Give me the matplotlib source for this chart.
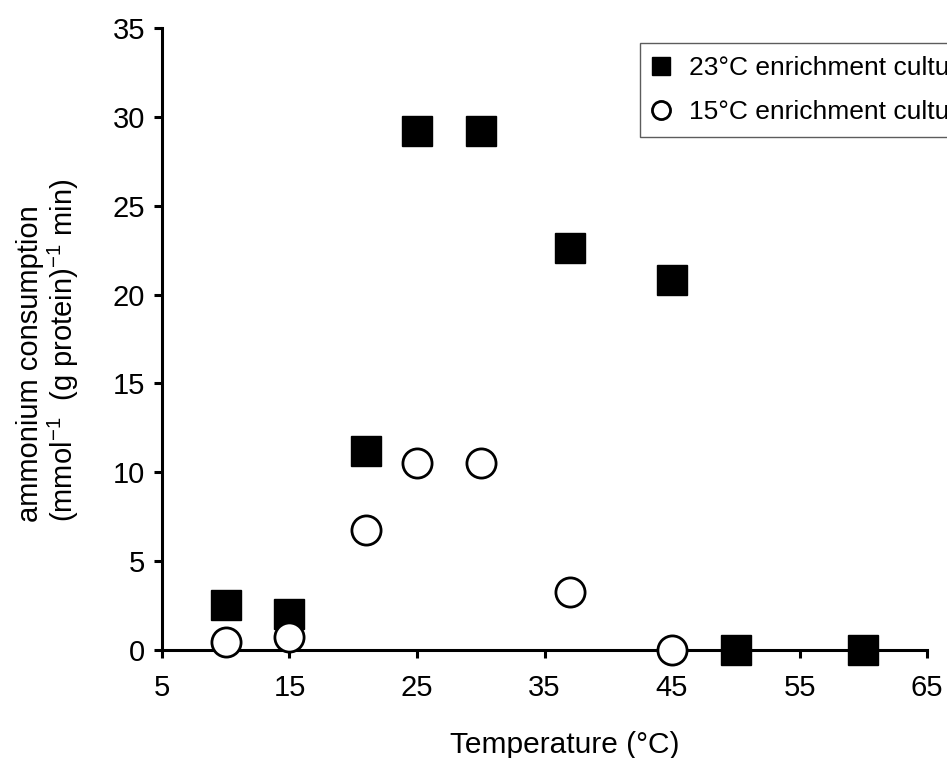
import matplotlib
matplotlib.use("Agg")
import matplotlib.pyplot as plt

plt.rcParams['font.family'] = ['Liberation Sans', 'DejaVu Sans']
plt.rcParams['mathtext.default'] = 'regular'

# data
temp_23 = [10, 15, 21, 25, 30, 37, 45, 50, 60]
rate_23 = [2.55, 2.05, 11.2, 29.2, 29.2, 22.6, 20.8, 0, 0]
temp_15 = [10, 15, 21, 25, 30, 37, 45]
rate_15 = [0.45, 0.75, 6.75, 10.5, 10.5, 3.25, 0]

xticks = [5, 15, 25, 35, 45, 55, 65]
yticks = [0, 5, 10, 15, 20, 25, 30, 35]

fig = plt.figure(figsize=(9.47, 7.58), dpi=100)
ax = fig.add_axes([0.171, 0.1425, 0.808, 0.8205])

ax.plot(temp_23, rate_23, 's', color='black', markersize=22, mec='black',
        label='23°C enrichment culture', clip_on=False, zorder=3)
ax.plot(temp_15, rate_15, 'o', color='white', markersize=21, mec='black', mew=2,
        label='15°C enrichment culture', clip_on=False, zorder=4)

ax.set_xlim(5, 65)
ax.set_ylim(0, 35)
ax.set_xticks(xticks)
ax.set_yticks(yticks)

for s in ['top', 'right']:
    ax.spines[s].set_visible(False)
for s in ['left', 'bottom']:
    ax.spines[s].set_linewidth(2.2)

ax.tick_params(axis='both', direction='out', length=6, width=2.2, labelsize=21)
ax.tick_params(axis='x', pad=11)
ax.tick_params(axis='y', pad=6)

# axis titles
fig.text(565 / 947, 1 - 753 / 758, 'Temperature (°C)', ha='center', va='baseline', fontsize=21.5)
fig.text(30 / 947, 1 - 522 / 758, 'ammonium consumption',
         rotation=90, ha='center', va='bottom', fontsize=21)
fig.text(63 / 947, 1 - 522 / 758, '(mmol$^{-1}$  (g protein)$^{-1}$ min)',
         rotation=90, ha='center', va='bottom', fontsize=21)

# legend runs off the right edge, as in the original
leg = fig.legend(loc='upper left', bbox_to_anchor=(640 / 947, 1 - 43 / 758),
                 fontsize=19, frameon=True, fancybox=False, markerscale=0.62,
                 handletextpad=0.75, borderpad=0.5, labelspacing=0.75,
                 handlelength=0.6, borderaxespad=0)
leg.get_frame().set_edgecolor('#333333')
leg.get_frame().set_linewidth(1.0)

fig.savefig('out.png', dpi=100)
